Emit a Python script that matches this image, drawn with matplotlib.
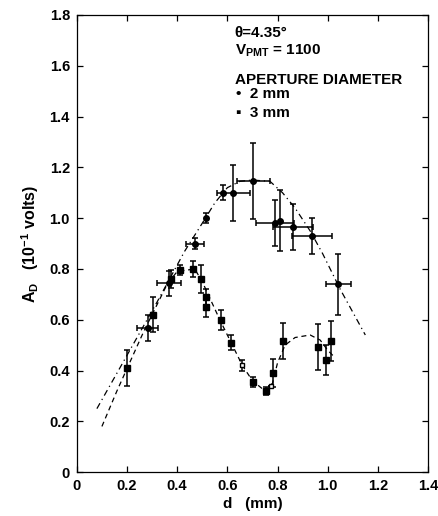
import numpy as np
import matplotlib
matplotlib.use("Agg")
from matplotlib import pyplot as plt

plt.rcParams['font.family'] = ['Liberation Sans', 'DejaVu Sans']
plt.rcParams['font.weight'] = 'bold'
plt.rcParams['mathtext.fontset'] = 'custom'
plt.rcParams['mathtext.rm'] = 'Liberation Sans:bold'
plt.rcParams['mathtext.bf'] = 'Liberation Sans:bold'
plt.rcParams['mathtext.it'] = 'Liberation Sans:bold'

# 2 mm aperture (upper curve, with d uncertainty)
d2 = np.array([0.282, 0.368, 0.471, 0.515, 0.584, 0.624, 0.703, 0.790, 0.810, 0.863, 0.939, 1.042])
a2 = np.array([0.568, 0.743, 0.900, 1.000, 1.100, 1.100, 1.147, 0.981, 0.989, 0.966, 0.930, 0.740])
a2_err = np.array([0.05, 0.05, 0.02, 0.02, 0.03, 0.11, 0.15, 0.09, 0.12, 0.09, 0.07, 0.12])
d2_err = np.array([0.043, 0.048, 0.036, 0.0, 0.0, 0.065, 0.066, 0.076, 0.0, 0.08, 0.08, 0.05])

# 3 mm aperture (lower curve)
d3 = np.array([0.200, 0.302, 0.375, 0.411, 0.465, 0.496, 0.513, 0.513, 0.574, 0.614,
               0.701, 0.753, 0.783, 0.823, 0.963, 0.993, 1.013])
a3 = np.array([0.410, 0.620, 0.760, 0.795, 0.800, 0.760, 0.690, 0.650, 0.600, 0.510,
               0.356, 0.319, 0.392, 0.516, 0.493, 0.441, 0.517])
a3_err = np.array([0.072, 0.07, 0.035, 0.02, 0.03, 0.055, 0.03, 0.04, 0.04, 0.03,
                   0.02, 0.015, 0.055, 0.07, 0.09, 0.06, 0.08])

# open points
d_open = np.array([0.657, 0.775])
a_open = np.array([0.420, 0.340])
a_open_err = np.array([0.02, 0.0])

# hand-drawn guide curves
fit2_d = [0.08, 0.20, 0.32, 0.43, 0.50, 0.55, 0.60, 0.65, 0.70, 0.77, 0.82, 0.87, 0.93, 0.98, 1.05, 1.10, 1.15]
fit2_a = [0.25, 0.46, 0.67, 0.87, 0.98, 1.06, 1.12, 1.145, 1.15, 1.145, 1.10, 1.04, 0.95, 0.86, 0.72, 0.63, 0.54]
fit3_d = [0.10, 0.16, 0.265, 0.36, 0.40, 0.47, 0.50, 0.57, 0.62, 0.66, 0.70, 0.75, 0.78, 0.80, 0.83, 0.87, 0.93, 0.97, 1.00, 1.03]
fit3_a = [0.18, 0.32, 0.55, 0.74, 0.79, 0.80, 0.75, 0.60, 0.50, 0.42, 0.36, 0.32, 0.35, 0.43, 0.50, 0.53, 0.54, 0.52, 0.48, 0.45]

xticks = [0, 0.2, 0.4, 0.6, 0.8, 1.0, 1.2, 1.4]
xtick_labels = ['0', '0.2', '0.4', '0.6', '0.8', '1.0', '1.2', '1.4']
yticks = [0, 0.2, 0.4, 0.6, 0.8, 1.0, 1.2, 1.4, 1.6, 1.8]
ytick_labels = ['0', '0.2', '0.4', '0.6', '0.8', '1.0', '1.2', '1.4', '1.6', '1.8']

fig = plt.figure(figsize=(4.39, 5.16), dpi=100)
ax = fig.add_axes([0.175, 0.085, 0.8, 0.886])

ax.plot(fit2_d, fit2_a, color='black', lw=0.9, linestyle=(0, (5, 3, 1, 3)))
ax.plot(fit3_d, fit3_a, color='black', lw=0.9, linestyle=(0, (4, 3)))

ax.errorbar(d2, a2, yerr=a2_err, fmt='o', color='black', ms=4, capsize=2.5, elinewidth=1.1, capthick=1.1)
m = d2_err > 0
ax.errorbar(d2[m], a2[m], xerr=d2_err[m], fmt='none', ecolor='black', capsize=2.5, elinewidth=1.1, capthick=1.1)
ax.errorbar(d3, a3, yerr=a3_err, fmt='s', color='black', ms=3.8, capsize=2.5, elinewidth=1.1, capthick=1.1)
ax.errorbar(d_open, a_open, yerr=a_open_err, fmt='s', mfc='white', mec='black', ecolor='black',
            ms=3.5, capsize=2.5, elinewidth=1.1, capthick=1.1)

ax.set_xlim(0, 1.4)
ax.set_ylim(0, 1.8)
ax.set_xticks(xticks)
ax.set_xticklabels(xtick_labels)
ax.set_yticks(yticks)
ax.set_yticklabels(ytick_labels)
ax.tick_params(direction='in', top=True, right=True, length=4, width=0.9, labelsize=10.5, pad=5)
for s in ax.spines.values():
    s.set_linewidth(0.9)

ax.set_xlabel('d   (mm)', fontsize=11, fontweight='bold', labelpad=3)
ax.set_ylabel(r'$\mathrm{A_D}$   (10$^{\mathrm{-1}}$ volts)', fontsize=11.5, fontweight='bold', labelpad=6)

fs = 11
ax.text(0.63, 1.728, 'θ=4.35°', fontsize=fs, fontweight='bold', va='center')
ax.text(0.63, 1.66, r'$\mathrm{V_{PMT}}$ = 1100', fontsize=fs, fontweight='bold', va='center')
ax.text(0.63, 1.543, 'APERTURE DIAMETER', fontsize=fs, fontweight='bold', va='center')
ax.text(0.635, 1.488, '•  2 mm', fontsize=fs, fontweight='bold', va='center')
ax.text(0.635, 1.413, '▪  3 mm', fontsize=fs, fontweight='bold', va='center')

fig.savefig('out.png', dpi=100)
